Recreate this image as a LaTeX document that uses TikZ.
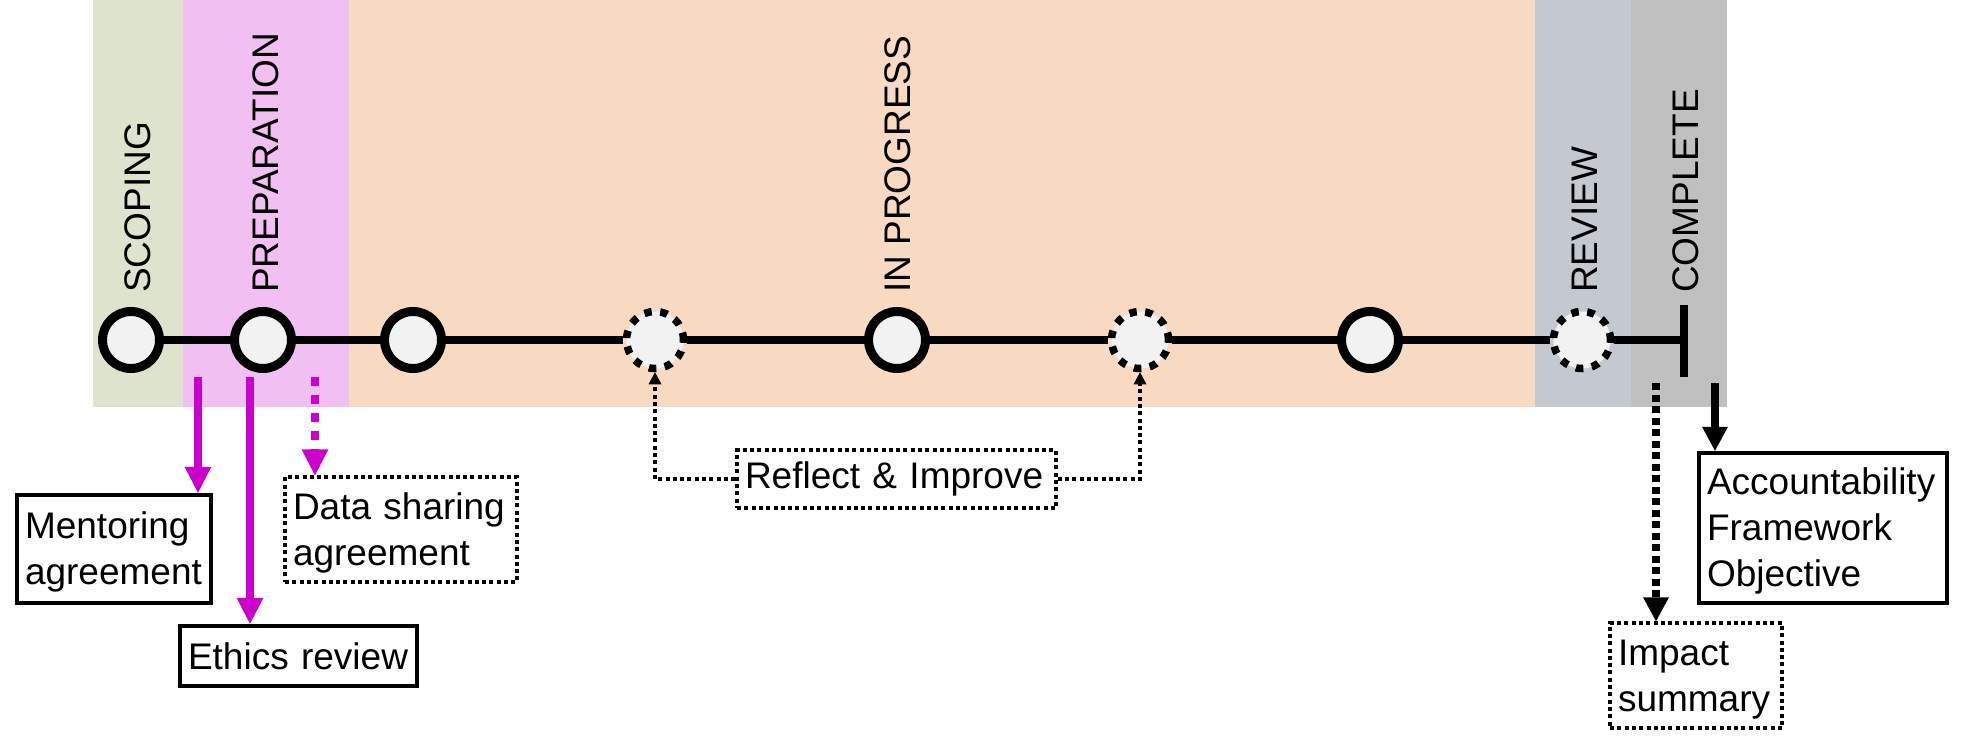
\documentclass[tikz,border=0pt]{standalone}
\usepackage{fontspec}
\setmainfont{Liberation Sans}
\usetikzlibrary{arrows.meta}
\definecolor{scopeg}{HTML}{DDE3CC}
\definecolor{prepp}{HTML}{F2BFF2}
\definecolor{progo}{HTML}{F8D9C1}
\definecolor{revb}{HTML}{C4C9D1}
\definecolor{compg}{HTML}{C0C0C0}
\definecolor{nodef}{HTML}{F2F2F2}
\definecolor{mag}{HTML}{CC00CC}
\newcommand{\topstrut}{\rule{0pt}{33pt}}
\begin{document}
\begin{tikzpicture}[x=1pt,y=-1pt,
  font=\fontsize{37}{46}\selectfont,
  milestone/.style={circle, draw=black, line width=9pt, fill=nodef, minimum size=57pt, inner sep=0pt},
  dmilestone/.style={circle, draw=black, line width=7.5pt, dash pattern=on 7.5pt off 8.5pt, fill=nodef, minimum size=57pt, inner sep=0pt},
  phase/.style={rotate=90, anchor=base west, inner sep=0pt},
  tline/.style={line width=8pt},
  solidbox/.style={draw=black, line width=4.5pt, align=left, inner sep=0pt},
  dotbox/.style={draw=black, line width=3.5pt, dash pattern=on 4pt off 3.3pt, align=left, inner sep=0pt},
  marrow/.style={draw=mag, line width=8pt, -{Triangle[width=27pt,length=26pt,line width=0pt]}},
  mdarrow/.style={marrow, dash pattern=on 9pt off 9pt},
  karrow/.style={draw=black, line width=8pt, -{Triangle[width=26pt,length=24pt,line width=0pt]}},
  kdarrow/.style={karrow, dash pattern=on 7pt off 4.5pt},
  rarrow/.style={draw=black, line width=4pt, dash pattern=on 4pt off 3.3pt, -{Triangle[width=13pt,length=12pt,line width=0pt]}}
]
\useasboundingbox (0,0) rectangle (1970,744);
% phase bands
\fill[scopeg] (93,0) rectangle (183,407);
\fill[prepp] (183,0) rectangle (349,407);
\fill[progo] (349,0) rectangle (1535,407);
\fill[revb] (1535,0) rectangle (1631,407);
\fill[compg] (1631,0) rectangle (1727,407);
% phase labels
\node[phase] (lscope) at (150,293) {SCOPING};
\node[phase] (lprep) at (278,293) {PREPARATION};
\node[phase] (lprog) at (910,293) {IN PROGRESS};
\node[phase] (lrev) at (1597,293) {REVIEW};
\node[phase] (lcomp) at (1698,293) {COMPLETE};
% milestones
\node[milestone] (c1) at (131,340) {};
\node[milestone] (c2) at (263,340) {};
\node[milestone] (c3) at (413,340) {};
\node[dmilestone] (d1) at (655,340) {};
\node[milestone] (c4) at (897,340) {};
\node[dmilestone] (d2) at (1140,340) {};
\node[milestone] (c5) at (1370,340) {};
\node[dmilestone] (d3) at (1582,340) {};
\coordinate (endc) at (1684,340);
\coordinate (endtop) at (1684,305);
\coordinate (endbot) at (1684,377);
% timeline
\draw[tline] (c1) -- (c2);
\draw[tline] (c2) -- (c3);
\draw[tline] (c3) -- (d1);
\draw[tline] (d1) -- (c4);
\draw[tline] (c4) -- (d2);
\draw[tline] (d2) -- (c5);
\draw[tline] (c5) -- (d3);
\draw[tline] (d3) -- (endc);
\draw[tline] (endtop) -- (endbot);
% output boxes
\node[solidbox, minimum width=194pt, minimum height=108pt, text width=178pt] (mentor) at (114,549) {\topstrut Mentoring\\agreement};
\node[solidbox, minimum width=237pt, minimum height=60pt, text width=221pt] (ethics) at (298.5,656) {Ethics review};
\node[dotbox, minimum width=232pt, minimum height=105pt, text width=216pt] (data) at (401,529.5) {\topstrut Data sharing\\agreement};
\node[dotbox, minimum width=319pt, minimum height=58pt, text width=303pt] (reflect) at (896.5,479) {Reflect \& Improve};
\node[solidbox, minimum width=248pt, minimum height=150pt, text width=232pt] (acc) at (1823,528) {\topstrut Accountability\\Framework\\Objective};
\node[dotbox, minimum width=172pt, minimum height=105pt, text width=156pt] (impact) at (1696,675.5) {\topstrut Impact\\summary};
% arrows
\coordinate (ma) at (198,377);
\coordinate (ea) at (250,377);
\coordinate (da) at (315,377);
\coordinate (aa) at (1715,383);
\coordinate (ia) at (1656,383);
\draw[marrow] (ma) -- (ma |- mentor.north);
\draw[marrow] (ea) -- (ea |- ethics.north);
\draw[mdarrow] (da) -- (da |- data.north);
\draw[karrow] (aa) -- (aa |- acc.north);
\draw[kdarrow] (ia) -- (ia |- impact.north);
\draw[rarrow] (reflect.west) -| (d1.south);
\draw[rarrow] (reflect.east) -| (d2.south);
\end{tikzpicture}
\end{document}
